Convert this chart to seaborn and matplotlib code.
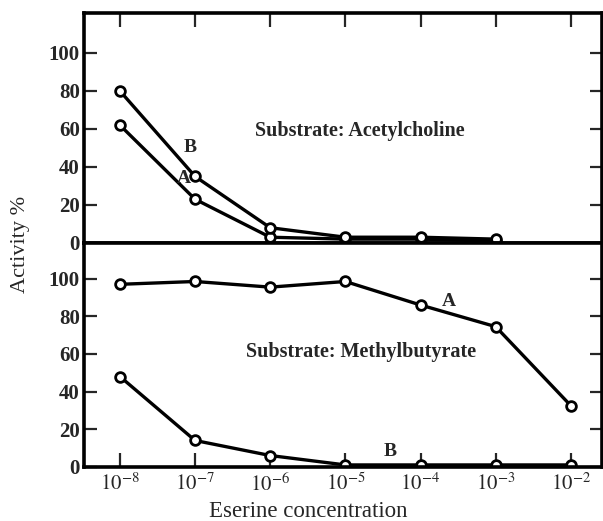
import numpy as np
import pandas as pd
import matplotlib
matplotlib.use('Agg')
import matplotlib.pyplot as plt
import seaborn as sns

sns.set_style('white')
plt.rcParams['font.family'] = ['Liberation Serif', 'DejaVu Serif']
plt.rcParams['mathtext.fontset'] = 'stix'

# eserine concentrations (M)
conc = [1e-8, 1e-7, 1e-6, 1e-5, 1e-4, 1e-3, 1e-2]

# substrate: acetylcholine (no point at 1e-2)
ach_A = [62, 23, 3, 2, 2, 1]
ach_B = [80, 35, 8, 3, 3, 2]

# substrate: methylbutyrate
mb_A = [97, 98.5, 95.5, 98.5, 86, 74.5, 32.5]
mb_B = [48, 14, 6, 1, 1, 1, 1]

xticks = [1e-8, 1e-7, 1e-6, 1e-5, 1e-4, 1e-3, 1e-2]
xticklabels = [r'$10^{-8}$', r'$10^{-7}$', r'$10^{-6}$', r'$10^{-5}$',
               r'$10^{-4}$', r'$10^{-3}$', r'$10^{-2}$']
yticks = [0, 20, 40, 60, 80, 100]

top_df = pd.DataFrame({
    'conc': conc[:6] * 2,
    'act': ach_A + ach_B,
    'curve': ['A'] * 6 + ['B'] * 6,
})
bot_df = pd.DataFrame({
    'conc': conc * 2,
    'act': mb_A + mb_B,
    'curve': ['A'] * 7 + ['B'] * 7,
})

fig = plt.figure(figsize=(6.03, 5.21), dpi=100)
gs = fig.add_gridspec(2, 1, left=0.139, right=0.999, top=0.975, bottom=0.104,
                      hspace=0, height_ratios=[230, 224])
ax1 = fig.add_subplot(gs[0])
ax2 = fig.add_subplot(gs[1], sharex=ax1)

line_kw = dict(color='black', linewidth=2.4, marker='o', markersize=7,
               markerfacecolor='white', markeredgecolor='black', markeredgewidth=2.0)

for ax, df in [(ax1, top_df), (ax2, bot_df)]:
    sns.lineplot(data=df, x='conc', y='act', units='curve', estimator=None,
                 ax=ax, legend=False, sort=False, **line_kw)
    ax.set_xscale('log')
    ax.set_xlim(10 ** -8.48, 10 ** -1.58)
    ax.set_yticks(yticks)
    ax.set_yticklabels([str(v) for v in yticks], fontsize=15, fontweight='bold')
    ax.set_xlabel('')
    ax.set_ylabel('')
    ax.minorticks_off()
    for s in ax.spines.values():
        s.set_linewidth(2.6)
        s.set_color('black')
    ax.tick_params(axis='y', direction='in', length=9, width=1.6, left=True, right=True,
                   pad=3)

ax1.set_ylim(0, 121)
ax2.set_ylim(0, 119)

ax1.set_xticks(xticks)
ax1.tick_params(axis='x', direction='in', length=10, width=1.6, top=True, bottom=False,
                labelbottom=False)
ax2.set_xticks(xticks)
ax2.set_xticklabels(xticklabels, fontsize=15)
ax2.tick_params(axis='x', direction='in', length=10, width=1.6, top=False, bottom=True,
                labelbottom=True, pad=5)

# annotations
ax1.text(8.5e-8, 50, 'B', fontsize=14, fontweight='bold', ha='center', va='center')
ax1.text(7.0e-8, 34, 'A', fontsize=14, fontweight='bold', ha='center', va='center')
ax1.text(1.55e-5, 59, 'Substrate: Acetylcholine', fontsize=14.5, fontweight='bold',
         ha='center', va='center')
ax2.text(2.4e-4, 88, 'A', fontsize=14, fontweight='bold', ha='center', va='center')
ax2.text(1.6e-5, 61, 'Substrate: Methylbutyrate', fontsize=14.5, fontweight='bold',
         ha='center', va='center')
ax2.text(4.0e-5, 8, 'B', fontsize=14, fontweight='bold', ha='center', va='center')

fig.text(0.034, 0.53, 'Activity %', rotation=90, fontsize=16, ha='center', va='center')
fig.text(0.511, 0.018, 'Eserine concentration', fontsize=16.5, ha='center', va='center')

fig.savefig('out.png', dpi=100)
